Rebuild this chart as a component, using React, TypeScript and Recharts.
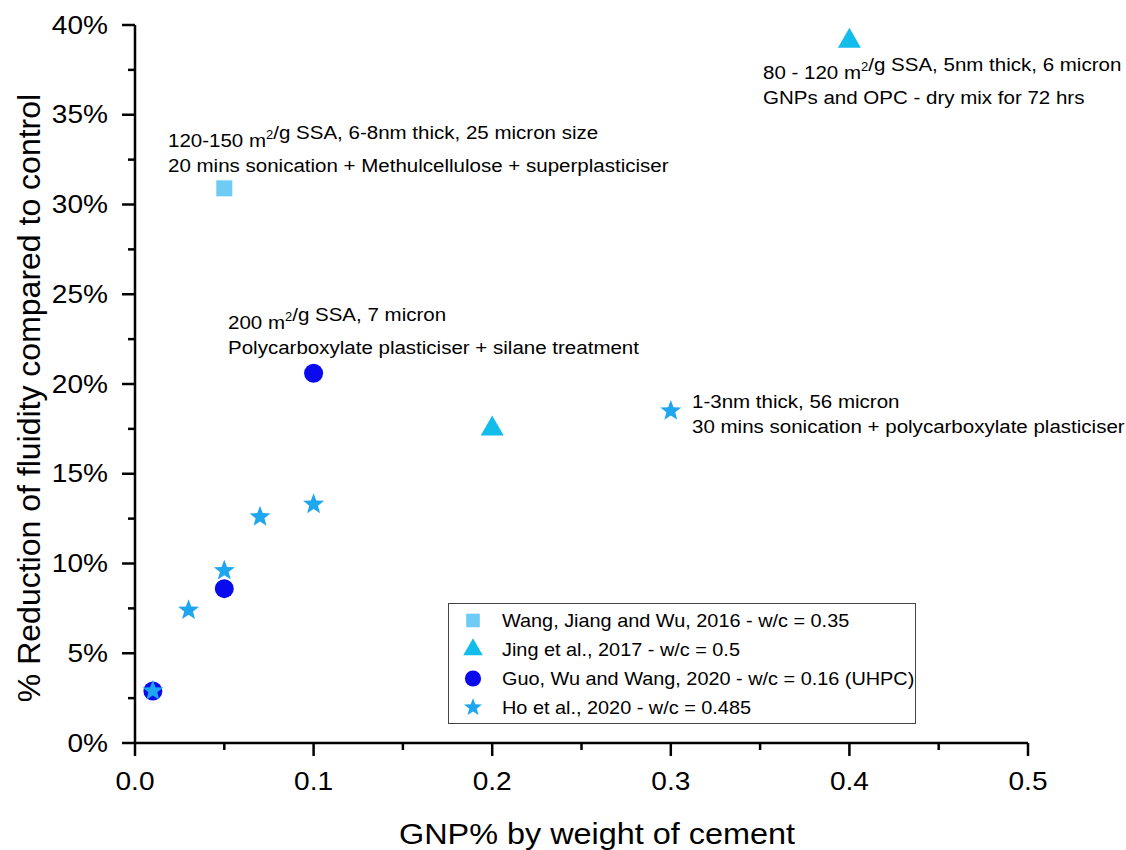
import React from 'react';
import { ScatterChart, Scatter, XAxis, YAxis, Legend, Customized } from 'recharts';

const FONT = '"Liberation Sans", Arial, Helvetica, sans-serif';
// the labels use a slightly widened face
const WIDE = 1.08;

// GNP dosage (% by weight of cement) and reduction of fluidity (%)
const wangX = [0.05];
const wangY = [30.9];
const jingX = [0.2, 0.4];
const jingY = [17.5, 39.1];
const guoX = [0.01, 0.05, 0.1];
const guoY = [2.9, 8.6, 20.6];
const hoX = [0.01, 0.03, 0.05, 0.07, 0.1, 0.3];
const hoY = [2.9, 7.4, 9.6, 12.6, 13.3, 18.5];

const xTicks = [0, 0.05, 0.1, 0.15, 0.2, 0.25, 0.3, 0.35, 0.4, 0.45, 0.5];
const yTicks = [0, 2.5, 5, 7.5, 10, 12.5, 15, 17.5, 20, 22.5, 25, 27.5, 30, 32.5, 35, 37.5, 40];

const zip = (xs: number[], ys: number[]) => xs.map((x, i) => ({ x, y: ys[i] }));

type Kind = 'square' | 'triangle' | 'circle' | 'star';

const series: { name: string; kind: Kind; color: string; data: { x: number; y: number }[] }[] = [
  { name: 'Wang, Jiang and Wu, 2016 - w/c = 0.35', kind: 'square', color: '#6ecbf5', data: zip(wangX, wangY) },
  { name: 'Jing et al., 2017 - w/c = 0.5', kind: 'triangle', color: '#12bdec', data: zip(jingX, jingY) },
  { name: 'Guo, Wu and Wang, 2020 - w/c = 0.16 (UHPC)', kind: 'circle', color: '#0a0aee', data: zip(guoX, guoY) },
  { name: 'Ho et al., 2020 - w/c = 0.485', kind: 'star', color: '#1ea6ee', data: zip(hoX, hoY) },
];

function Marker({ kind, cx, cy, color, k = 1 }: { kind: Kind; cx: number; cy: number; color: string; k?: number }) {
  if (kind === 'square') {
    const s = 16 * k;
    return <rect x={cx - s / 2} y={cy - s / 2} width={s} height={s} fill={color} />;
  }
  if (kind === 'circle') {
    return <circle cx={cx} cy={cy} r={9.5 * k} fill={color} />;
  }
  if (kind === 'triangle') {
    const w = 23 * k;
    const h = 20 * k;
    const d = `M${cx},${cy - (2 * h) / 3} L${cx + w / 2},${cy + h / 3} L${cx - w / 2},${cy + h / 3} Z`;
    return <path d={d} fill={color} />;
  }
  const R = 11 * k;
  const r = R * 0.42;
  const pts: string[] = [];
  for (let i = 0; i < 10; i++) {
    const a = -Math.PI / 2 + (i * Math.PI) / 5;
    const rr = i % 2 === 0 ? R : r;
    pts.push(`${cx + rr * Math.cos(a)},${cy + rr * Math.sin(a)}`);
  }
  return <polygon points={pts.join(' ')} fill={color} />;
}

function WideText({
  x, y, size, anchor = 'start', baseline, children,
}: { x: number; y: number; size: number; anchor?: string; baseline?: string; children: React.ReactNode }) {
  return (
    <text
      transform={`translate(${x},${y}) scale(${WIDE},1)`}
      textAnchor={anchor as any}
      dominantBaseline={baseline as any}
      fontSize={size}
      fontFamily={FONT}
      fill="#000"
    >
      {children}
    </text>
  );
}

function XTick(props: any) {
  const { x, y, payload } = props;
  const v = payload.value as number;
  const major = Math.round(v * 100) % 10 === 0;
  return (
    <g>
      <line x1={x} x2={x} y1={y} y2={y + (major ? 13 : 7)} stroke="#000" strokeWidth={2.5} />
      {major && (
        <WideText x={x} y={y + 47} size={26} anchor="middle">
          {v.toFixed(1)}
        </WideText>
      )}
    </g>
  );
}

function YTick(props: any) {
  const { x, y, payload } = props;
  const v = payload.value as number;
  const major = v % 5 === 0;
  return (
    <g>
      <line x1={x - (major ? 13 : 7)} x2={x} y1={y} y2={y} stroke="#000" strokeWidth={2.5} />
      {major && (
        <WideText x={x - 27} y={y} size={26} anchor="end" baseline="central">
          {`${v}%`}
        </WideText>
      )}
    </g>
  );
}

const sup = (t: string) => (
  <>
    <tspan dy={-8} fontSize={12}>{t}</tspan>
    <tspan dy={8}></tspan>
  </>
);

function Notes() {
  return (
    <g>
      <WideText x={168} y={147} size={19}>
        120-150 m{sup('2')}/g SSA, 6-8nm thick, 25 micron size
      </WideText>
      <WideText x={168} y={172} size={19}>
        20 mins sonication + Methulcellulose + superplasticiser
      </WideText>
      <WideText x={763} y={79} size={19}>
        80 - 120 m{sup('2')}/g SSA, 5nm thick, 6 micron
      </WideText>
      <WideText x={763} y={104} size={19}>
        GNPs and OPC - dry mix for 72 hrs
      </WideText>
      <WideText x={228} y={329} size={19}>
        200 m{sup('2')}/g SSA, 7 micron
      </WideText>
      <WideText x={228} y={354} size={19}>
        Polycarboxylate plasticiser + silane treatment
      </WideText>
      <WideText x={692} y={408} size={19}>
        1-3nm thick, 56 micron
      </WideText>
      <WideText x={692} y={433} size={19}>
        30 mins sonication + polycarboxylate plasticiser
      </WideText>

      <WideText x={597} y={844} size={30} anchor="middle">
        GNP% by weight of cement
      </WideText>
      <text
        transform="translate(40,398) rotate(-90)"
        textAnchor="middle"
        fontSize={32}
        fontFamily={FONT}
        fill="#000"
      >
        % Reduction of fluidity compared to control
      </text>
    </g>
  );
}

function LegendBox() {
  return (
    <div
      style={{
        width: 468,
        height: 121,
        boxSizing: 'border-box',
        border: '1.5px solid #444',
        background: '#fff',
        paddingTop: 2,
        fontFamily: FONT,
      }}
    >
      {series.map((s) => (
        <div key={s.name} style={{ display: 'flex', alignItems: 'center', height: 29 }}>
          <svg width={50} height={29} style={{ flex: 'none' }}>
            <Marker kind={s.kind} cx={24} cy={14.5} color={s.color} k={0.85} />
          </svg>
          <span
            style={{
              display: 'inline-block',
              marginLeft: 3,
              fontSize: 18.4,
              color: '#000',
              whiteSpace: 'nowrap',
              transform: `scaleX(${WIDE})`,
              transformOrigin: 'left center',
            }}
          >
            {s.name}
          </span>
        </div>
      ))}
    </div>
  );
}

export default function App() {
  return (
    <div style={{ position: 'absolute', left: 0, top: 0, width: 1126, height: 850, background: '#fff' }}>
      <ScatterChart width={1126} height={850} margin={{ top: 25, right: 98, bottom: 0, left: 0 }}>
        <XAxis
          type="number"
          dataKey="x"
          domain={[0, 0.5]}
          ticks={xTicks}
          interval={0}
          allowDataOverflow
          height={107}
          tickSize={0}
          tickMargin={0}
          tickLine={false}
          tick={<XTick />}
          axisLine={{ stroke: '#000', strokeWidth: 2.5 }}
        />
        <YAxis
          type="number"
          dataKey="y"
          domain={[0, 40]}
          ticks={yTicks}
          interval={0}
          allowDataOverflow
          width={135}
          tickSize={0}
          tickMargin={0}
          tickLine={false}
          tick={<YTick />}
          axisLine={{ stroke: '#000', strokeWidth: 2.5 }}
        />
        <Legend
          layout="vertical"
          align="center"
          verticalAlign="middle"
          wrapperStyle={{ left: 448, top: 603, width: 468 }}
          content={() => <LegendBox />}
        />
        {series.map((s) => (
          <Scatter
            key={s.name}
            name={s.name}
            data={s.data}
            fill={s.color}
            isAnimationActive={false}
            shape={(p: any) => <Marker kind={s.kind} cx={p.cx} cy={p.cy} color={s.color} />}
          />
        ))}
        <Customized component={Notes} />
      </ScatterChart>
    </div>
  );
}
